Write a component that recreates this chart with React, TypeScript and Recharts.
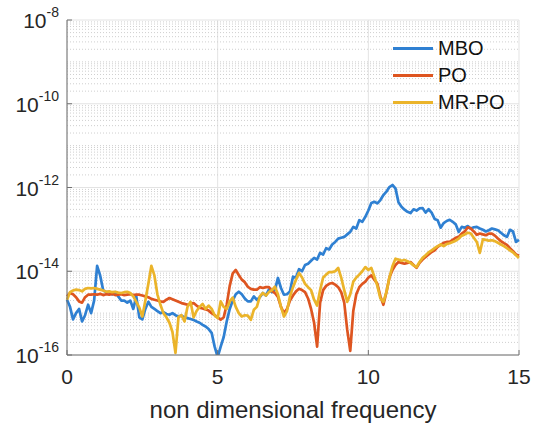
import React from 'react'
import {
  LineChart,
  Line,
  XAxis,
  YAxis,
  CartesianGrid,
  ReferenceLine,
  Legend,
} from 'recharts'

const MBO_EXP = [
  -14.68, -14.85, -15.15, -15.0, -14.9, -15.2, -15.05, -14.8, -15.0, -14.7,
  -13.87, -14.1, -14.45, -14.5, -14.5, -14.55, -14.5, -14.6, -14.7, -14.7,
  -14.75, -14.7, -14.9, -14.6, -15.1, -15.15, -14.9, -14.73, -14.85, -14.9,
  -14.95, -15.0, -14.98, -15.02, -15.04, -15.0, -15.05, -15.08, -15.06, -15.1,
  -15.12, -15.14, -15.16, -15.2, -15.23, -15.28, -15.32, -15.38, -15.47, -15.8,
  -16.05, -15.8, -15.57, -15.2, -14.9, -14.7, -14.55, -14.49, -14.55, -14.65,
  -14.72, -14.72, -14.6, -14.68, -14.62, -14.52, -14.58, -14.44, -14.5, -14.45,
  -14.16, -14.4, -14.56, -14.55, -14.48, -14.13, -14.15, -13.95, -14.0, -13.85,
  -13.82, -13.75, -13.68, -13.72, -13.56, -13.6, -13.45, -13.48, -13.36, -13.3,
  -13.22, -13.2, -13.18, -13.12, -13.06, -12.94, -12.98, -12.78, -12.82, -12.7,
  -12.55, -12.37, -12.34, -12.38, -12.3, -12.18, -12.1, -11.99, -11.94, -12.02,
  -12.35, -12.46, -12.53, -12.58, -12.61, -12.52, -12.55, -12.5, -12.49, -12.6,
  -12.52, -12.6, -12.75, -12.78, -12.96, -12.85, -12.8, -12.77, -12.82, -12.88,
  -13.06, -12.94, -12.96, -12.92, -12.98, -12.95, -12.94, -12.98, -13.01, -13.05,
  -13.02, -12.98, -13.0, -13.02, -13.08, -13.14, -13.18, -13.01, -13.05, -13.3,
  -13.25,
]

const PO_EXP = [
  -14.6, -14.52, -14.55, -14.62, -14.72, -14.75, -14.62, -14.56, -14.56, -14.55,
  -14.56, -14.54, -14.57, -14.55, -14.56, -14.54, -14.57, -14.56, -14.55, -14.57,
  -14.56, -14.55, -14.57, -14.56, -14.56, -14.58, -14.6, -14.62, -14.66, -14.68,
  -14.7, -14.72, -14.73, -14.68, -14.64, -14.67, -14.7, -14.73, -14.76, -14.78,
  -14.8, -14.78, -14.76, -14.82, -14.87, -14.89, -14.91, -14.94, -15.0, -15.05,
  -15.1, -15.16, -15.1, -14.8, -14.35, -14.05, -13.97, -14.09, -14.2, -14.26,
  -14.37, -14.42, -14.44, -14.44, -14.38, -14.4, -14.38, -14.38, -14.47, -14.52,
  -14.61, -14.85, -15.0, -14.9, -14.7, -14.58, -14.48, -14.42, -14.45, -14.5,
  -14.65, -14.9, -15.23, -15.8, -14.75, -14.45, -14.35, -14.3, -14.28, -14.32,
  -14.38, -14.5, -14.75, -15.4, -15.9, -14.95, -14.55, -14.38, -14.3, -14.25,
  -14.15, -14.1, -14.2, -14.3, -14.6, -14.8, -14.5, -14.15, -13.97, -13.85,
  -13.78, -13.8, -13.82, -13.8, -13.78, -13.85, -13.92, -13.8, -13.72, -13.66,
  -13.6, -13.54, -13.5, -13.42, -13.37, -13.32, -13.3, -13.3, -13.25, -13.2,
  -13.18, -13.1, -13.05, -12.95, -12.98, -13.05, -13.13, -13.1, -13.12, -13.14,
  -13.1, -13.1, -13.15, -13.22, -13.28, -13.33, -13.37, -13.45, -13.52, -13.6,
  -13.63,
]

const MRPO_EXP = [
  -14.68, -14.5, -14.46, -14.44, -14.45, -14.48, -14.42, -14.4, -14.41, -14.4,
  -14.42, -14.44, -14.46, -14.49, -14.48, -14.5, -14.49, -14.51, -14.52, -14.5,
  -14.49, -14.52, -14.6, -14.73, -14.87, -15.08, -14.7, -14.3, -13.87, -14.1,
  -14.55, -14.8, -15.0, -15.1, -15.23, -15.45, -15.95, -15.09, -15.05, -15.2,
  -14.85, -14.73, -15.1, -14.95, -14.85, -14.78, -14.9, -14.82, -14.9, -15.05,
  -15.12, -14.72, -14.85, -14.9, -14.72, -14.63, -14.85, -15.0, -15.08, -15.05,
  -15.06, -15.16, -14.92, -14.85, -14.6, -14.52, -14.58, -14.5, -14.45, -14.37,
  -14.55, -14.85, -15.08, -14.95, -14.6, -14.38, -14.2, -14.04, -14.15, -14.3,
  -14.38, -14.45, -14.68, -14.82, -14.45, -14.15, -14.08, -14.02, -14.02, -14.0,
  -13.92, -14.15, -14.45, -14.73, -14.55, -14.25, -14.15, -14.08, -14.0, -13.9,
  -13.97, -13.92, -14.13, -14.35, -14.65, -14.73, -14.5, -14.15, -13.88, -13.7,
  -13.72, -13.75, -13.73, -13.76, -13.8, -13.86, -13.9, -13.78, -13.68, -13.62,
  -13.55, -13.5, -13.45, -13.4, -13.36, -13.4, -13.35, -13.33, -13.3, -13.27,
  -13.22, -13.15, -13.12, -13.08, -13.1, -13.2, -13.3, -13.56, -13.24, -13.25,
  -13.27, -13.26, -13.28, -13.32, -13.36, -13.4, -13.45, -13.5, -13.55, -13.62,
  -13.68,
]

const X_TICKS = [0, 5, 10, 15]
const Y_TICKS = [1e-16, 1e-14, 1e-12, 1e-10, 1e-8]

const SERIES = [
  { key: 'mbo', name: 'MBO', color: '#2f80d2' },
  { key: 'po', name: 'PO', color: '#de5520' },
  { key: 'mrpo', name: 'MR-PO', color: '#ebb42a' },
]

const FONT = '"Liberation Sans", Arial, Helvetica, sans-serif'
const INK = '#262626'
const AXIS = '#707070'

const data = MBO_EXP.map((e, i) => ({
  f: i / 10,
  mbo: Math.pow(10, e),
  po: Math.pow(10, PO_EXP[i]),
  mrpo: Math.pow(10, MRPO_EXP[i]),
}))

// dotted minor grid: every m * 10^k that is not a labelled decade
const minorLines: number[] = []
for (let k = -16; k < -8; k++) {
  for (let m = 1; m <= 9; m++) {
    if (m === 1 && k % 2 === 0) continue
    minorLines.push(m * Math.pow(10, k))
  }
}

function PowTick({ x, y, payload }: any) {
  const exp = Math.round(Math.log10(payload.value))
  return (
    <text x={x} y={y + 8} textAnchor="end" fill={INK} fontFamily={FONT}>
      <tspan fontSize={21}>10</tspan>
      <tspan fontSize={14} dy={-11}>
        {exp}
      </tspan>
    </text>
  )
}

function LegendBox() {
  return (
    <div style={{ fontFamily: FONT, fontSize: 20, color: '#111' }}>
      {SERIES.map((s) => (
        <div
          key={s.key}
          style={{ display: 'flex', alignItems: 'center', height: 27 }}
        >
          <span
            style={{
              display: 'inline-block',
              width: 40,
              height: 3,
              background: s.color,
              marginRight: 5,
            }}
          />
          <span>{s.name}</span>
        </div>
      ))}
    </div>
  )
}

export default function App() {
  return (
    <div style={{ width: 536, height: 428, background: '#fff' }}>
      <style>{'body{margin:0}'}</style>
      <LineChart
        width={536}
        height={428}
        data={data}
        margin={{ top: 20, right: 17, bottom: 0, left: 0 }}
      >
        <CartesianGrid stroke="#e3e3e3" />
        {minorLines.map((v) => (
          <ReferenceLine
            key={v}
            y={v}
            stroke="#cfcfcf"
            strokeDasharray="1 2"
          />
        ))}
        <XAxis
          dataKey="f"
          type="number"
          domain={[0, 15]}
          ticks={X_TICKS}
          height={73}
          stroke={AXIS}
          tickSize={-5}
          tickMargin={19}
          tick={{ fontSize: 21, fill: INK, fontFamily: FONT }}
          label={({ viewBox }: any) => (
            <text
              x={viewBox.x + viewBox.width / 2}
              y={viewBox.y + 63}
              textAnchor="middle"
              fontSize={24}
              fill={INK}
              fontFamily={FONT}
            >
              non dimensional frequency
            </text>
          )}
        />
        <XAxis
          xAxisId="top"
          orientation="top"
          type="number"
          domain={[0, 15]}
          ticks={X_TICKS}
          height={0}
          stroke={AXIS}
          tickSize={-5}
          tick={false}
        />
        <YAxis
          scale="log"
          domain={[1e-16, 1e-8]}
          allowDataOverflow
          ticks={Y_TICKS}
          width={67}
          stroke={AXIS}
          tickSize={-5}
          tickMargin={13}
          tick={<PowTick />}
        />
        <YAxis
          yAxisId="right"
          orientation="right"
          scale="log"
          domain={[1e-16, 1e-8]}
          ticks={Y_TICKS}
          width={0}
          stroke={AXIS}
          tickSize={-5}
          tick={false}
        />
        {SERIES.map((s) => (
          <Line
            key={s.key}
            dataKey={s.key}
            name={s.name}
            stroke={s.color}
            strokeWidth={2.7}
            strokeLinejoin="round"
            dot={false}
            isAnimationActive={false}
          />
        ))}
        <Legend
          verticalAlign="middle"
          content={() => <LegendBox />}
          wrapperStyle={{ top: 35, left: 393, width: 140 }}
        />
      </LineChart>
    </div>
  )
}
